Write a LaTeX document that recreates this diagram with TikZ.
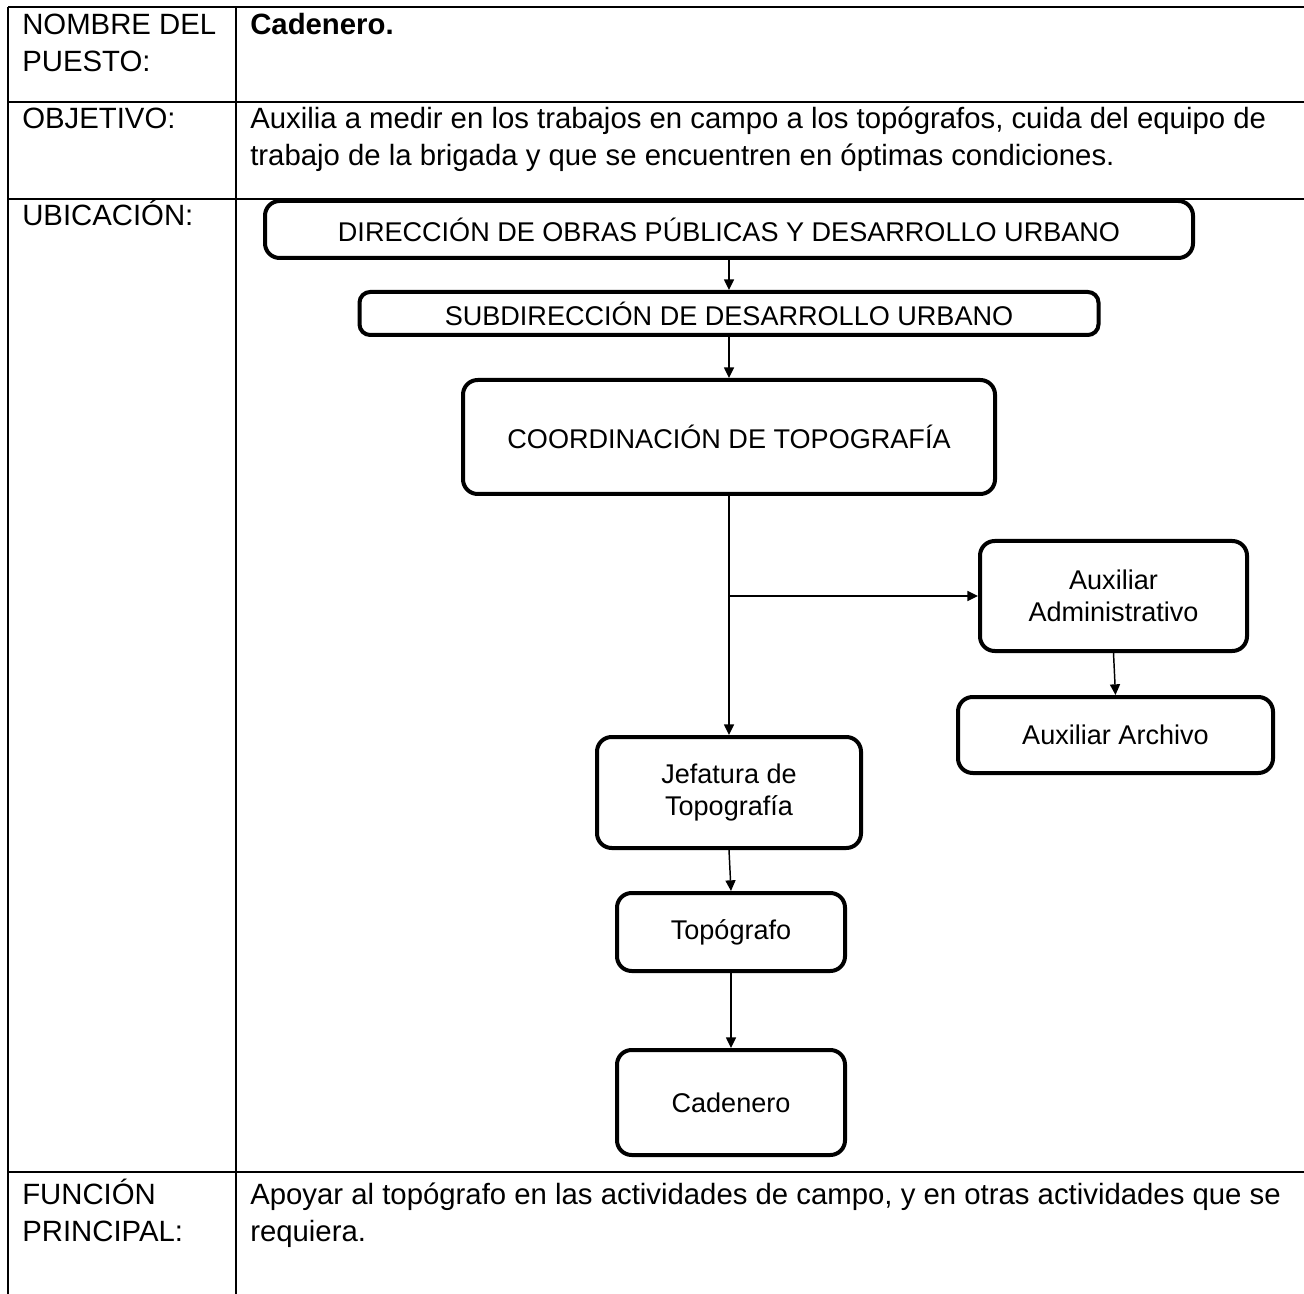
\documentclass[tikz,border=0pt]{standalone}
\usepackage{fontspec}
\setmainfont{Liberation Sans}
\usetikzlibrary{arrows.meta}

\def\px{0.75pt}
\tikzset{
  caja/.style={draw, line width=3pt, rounded corners=11pt, align=center,
    inner sep=0pt, font=\fontsize{20.3}{24}\selectfont},
  flecha/.style={line width=1.1pt, -{Triangle[length=8pt,width=7.5pt]}},
  celda/.style={anchor=base west, align=left, inner sep=0pt,
    font=\fontsize{22}{27.75}\selectfont},
  regla/.style={line width=1.8pt}
}

\begin{document}
\begin{tikzpicture}[x=\px, y=-\px]
  \useasboundingbox (0,0) rectangle (1304,1294);
  % rejilla de la tabla
  \foreach \y in {7,102,199,1172}
    \draw[regla] (8,\y) -- (1304,\y);
  \foreach \x in {8,236}
    \draw[regla] (\x,7) -- (\x,1294);

  % textos de la tabla (base = ultima linea)
  \node[celda] (nombre) at (22,72) {NOMBRE DEL\\PUESTO:};
  \node[celda, font=\fontsize{22}{27.75}\selectfont\bfseries] (puesto) at (250,35) {Cadenero.};
  \node[celda] (objetivo) at (22,129) {OBJETIVO:};
  \node[celda] (objtexto) at (250,166) {Auxilia a medir en los trabajos en campo a los topógrafos, cuida del equipo de\\trabajo de la brigada y que se encuentren en óptimas condiciones.};
  \node[celda] (ubicacion) at (22,226) {UBICACIÓN:};
  \node[celda] (funcion) at (22,1241) {FUNCIÓN\\PRINCIPAL:};
  \node[celda] (funtexto) at (250,1241) {Apoyar al topógrafo en las actividades de campo, y en otras actividades que se\\requiera.};

  % organigrama
  \node[caja, minimum width=928*\px, minimum height=57*\px] (dir) at (729,229.5)
    {DIRECCIÓN DE OBRAS PÚBLICAS Y DESARROLLO URBANO};
  \node[caja, minimum width=739*\px, minimum height=43*\px, rounded corners=8pt] (sub) at (729,313.5)
    {SUBDIRECCIÓN DE DESARROLLO URBANO};
  \node[caja, minimum width=532*\px, minimum height=114*\px] (coord) at (729,437)
    {COORDINACIÓN DE TOPOGRAFÍA};
  \node[caja, minimum width=267*\px, minimum height=110*\px] (auxadm) at (1113.5,596)
    {Auxiliar\\Administrativo};
  \node[caja, minimum width=315*\px, minimum height=76*\px] (auxarch) at (1115.5,735)
    {Auxiliar Archivo};
  \node[caja, minimum width=264*\px, minimum height=111*\px] (jef) at (729,792.5)
    {Jefatura de\\Topografía};
  \node[caja, minimum width=228*\px, minimum height=78*\px] (topo) at (731,932)
    {Topógrafo};
  \node[caja, minimum width=228*\px, minimum height=105*\px] (cad) at (731,1102.5)
    {Cadenero};

  \draw[flecha] (dir.south) -- (sub.north);
  \draw[flecha] (sub.south) -- (coord.north);
  \draw[flecha] (coord.south) -- (jef.north);
  \coordinate (rama) at (coord.south |- auxadm.west);
  \draw[flecha] (rama) -- (auxadm.west);
  \draw[flecha] (auxadm.south) -- (auxarch.north);
  \draw[flecha] (jef.south) -- (topo.north);
  \draw[flecha] (topo.south) -- (cad.north);
\end{tikzpicture}
\end{document}
